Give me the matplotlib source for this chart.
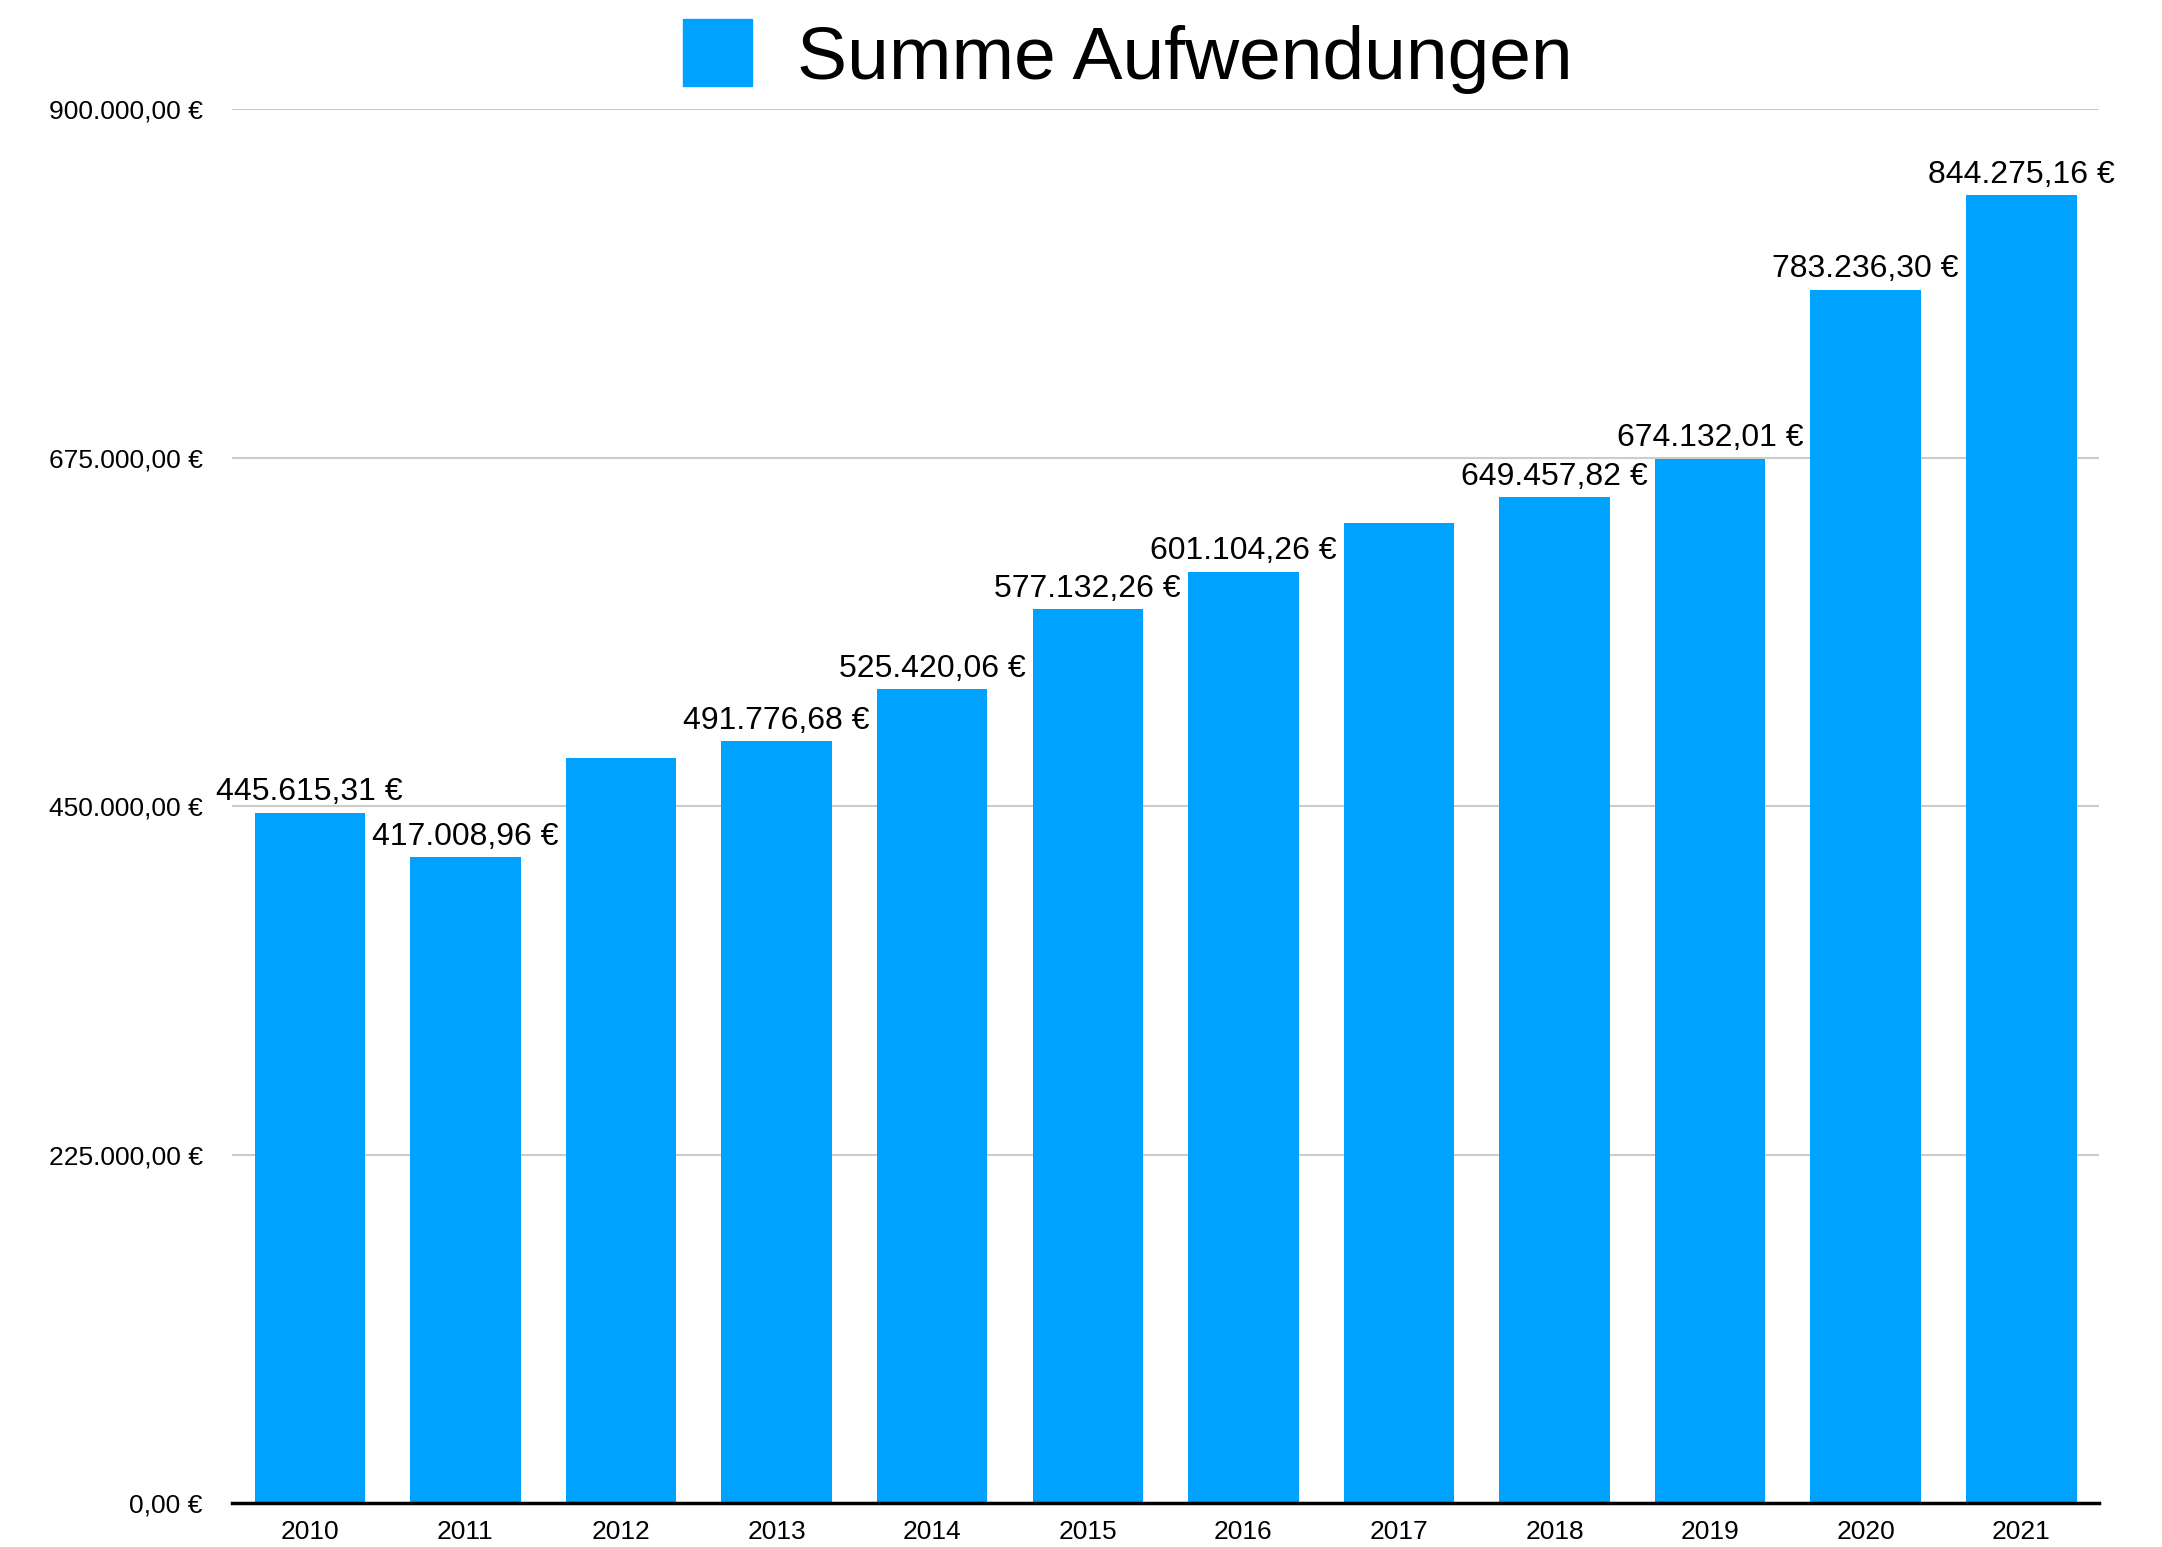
import matplotlib
matplotlib.use('Agg')
import matplotlib.pyplot as plt
import matplotlib.ticker as ticker
from matplotlib.patches import Patch

plt.rcParams['font.family'] = ['Liberation Sans', 'DejaVu Sans']

years = ['2010', '2011', '2012', '2013', '2014', '2015',
         '2016', '2017', '2018', '2019', '2020', '2021']
# 2012 und 2017 ohne Beschriftung im Original, Werte abgeschätzt
werte = [445615.31, 417008.96, 481000.00, 491776.68, 525420.06, 577132.26,
         601104.26, 632700.00, 649457.82, 674132.01, 783236.30, 844275.16]
beschriftet = [True, True, False, True, True, True,
               True, False, True, True, True, True]
y_ticks = [0, 225000, 450000, 675000, 900000]

BLAU = '#00A2FF'


def euro(v, pos=None):
    s = '{:,.2f}'.format(v)
    s = s.replace(',', 'X').replace('.', ',').replace('X', '.')
    return s + ' €'


fig = plt.figure(figsize=(21.62, 15.47), dpi=100)
ax = fig.add_axes([0.1073, 0.0284, 0.8636, 0.9011])

x = range(len(years))
bars = ax.bar(x, werte, width=0.71, color=BLAU, zorder=2)

for i, b in enumerate(bars):
    if not beschriftet[i]:
        continue
    ax.annotate(euro(werte[i]), (b.get_x() + b.get_width() / 2, werte[i]),
                xytext=(0, 4), textcoords='offset points',
                ha='center', va='bottom', fontsize=23, clip_on=False)

ax.set_xlim(-0.5, len(years) - 0.5)
ax.set_ylim(0, 900000)
ax.set_xticks(list(x))
ax.set_xticklabels(years)
ax.yaxis.set_major_locator(ticker.FixedLocator(y_ticks))
ax.yaxis.set_major_formatter(ticker.FuncFormatter(euro))
ax.tick_params(axis='both', length=0, labelsize=19)
ax.tick_params(axis='y', pad=21)
ax.tick_params(axis='x', pad=12)

ax.grid(True, axis='y', color='#cccccc', linewidth=1.5, zorder=0)
ax.set_axisbelow(True)
for side in ['top', 'right', 'left']:
    ax.spines[side].set_visible(False)
ax.spines['bottom'].set_linewidth(2.5)
ax.spines['bottom'].set_color('black')
ax.spines['bottom'].set_zorder(3)

fig.legend(handles=[Patch(color=BLAU, label='Summe Aufwendungen')],
           loc='center left', bbox_to_anchor=(0.3157, 0.9635),
           frameon=False, fontsize=54, handlelength=0.92, handleheight=1.0,
           handletextpad=0.6, borderpad=0, borderaxespad=0)

fig.savefig('out.png', dpi=100)
